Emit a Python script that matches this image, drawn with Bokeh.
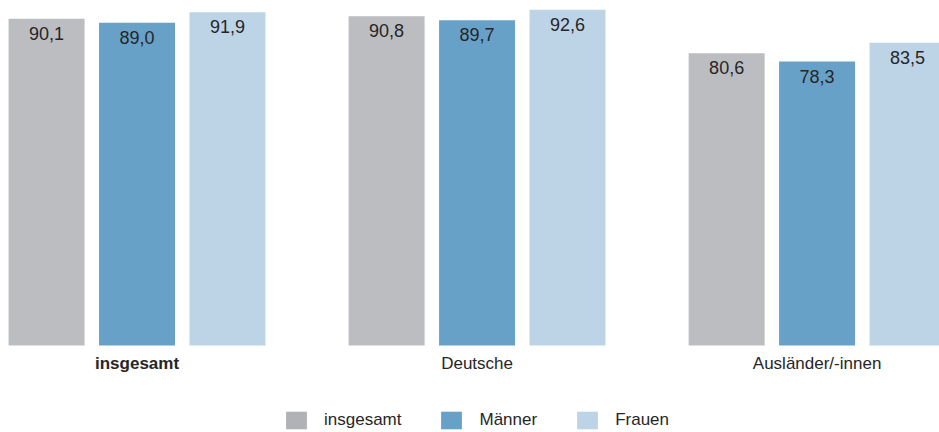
from bokeh.plotting import figure
from bokeh.models import ColumnDataSource, Range1d, Legend, LegendItem
from bokeh.transform import dodge
from bokeh.core.properties import value
from bokeh.embed import file_html
from bokeh.resources import INLINE

# ---- data ----
groups = ["insgesamt", "Deutsche", "Ausländer/-innen"]
series = ["insgesamt", "Männer", "Frauen"]
insgesamt = [90.1, 90.8, 80.6]
maenner = [89.0, 89.7, 78.3]
frauen = [91.9, 92.6, 83.5]

bar_colors = ["#bcbdc1", "#68a1c8", "#bdd4e7"]
legend_colors = ["#b1b2b6", "#68a1c8", "#bdd4e7"]
FONT_NAME = "Liberation Sans"
FONT = value(FONT_NAME)
TXT = "#262626"


def fmt(v):
    return f"{v:.1f}".replace(".", ",")


gx = list(range(len(groups)))
src = ColumnDataSource(dict(
    x=gx,
    zero=[0] * len(groups),
    s0=insgesamt, s1=maenner, s2=frauen,
    l0=[fmt(v) for v in insgesamt],
    l1=[fmt(v) for v in maenner],
    l2=[fmt(v) for v in frauen],
))

p = figure(width=939, height=432, output_backend="svg", toolbar_location=None,
           x_range=Range1d(-0.4015, 2.360), y_range=Range1d(-23.99, 95.12),
           x_axis_location=None, y_axis_location=None, min_border=0)
p.outline_line_color = None
p.xgrid.visible = False
p.ygrid.visible = False
p.background_fill_color = "white"

offsets = [-0.266, 0.0, 0.266]
bw = 0.2235
for i in range(3):
    p.vbar(x=dodge("x", offsets[i]), top=f"s{i}", bottom=0, width=bw,
           source=src, fill_color=bar_colors[i], line_color=None)
    p.text(x=dodge("x", offsets[i]), y=f"s{i}", text=f"l{i}", source=src,
           text_align="center", text_baseline="top", y_offset=8,
           text_font=FONT, text_font_size="18px", text_color=TXT)

# category labels
cat_src = ColumnDataSource(dict(x=gx, y=[0] * len(groups), t=groups,
                                st=["bold"] + ["normal"] * (len(groups) - 1)))
p.text(x="x", y="y", text="t", source=cat_src, text_align="center",
       text_baseline="top", y_offset=9, text_font=FONT,
       text_font_size="17px", text_font_style="st", text_color=TXT)

# legend (zero-height proxy bars carry the legend colours)
items = []
for i, s in enumerate(series):
    r = p.vbar(x=dodge("x", offsets[i]), top="zero", bottom="zero", width=bw,
               source=src, fill_color=legend_colors[i], line_color=None)
    items.append(LegendItem(label=s, renderers=[r]))
legend = Legend(items=items, orientation="horizontal", location=(283, 1),
                glyph_width=26, glyph_height=22, label_height=22,
                label_standoff=15, spacing=37,
                padding=0, margin=0, border_line_color=None,
                background_fill_alpha=0, label_text_font=FONT_NAME,
                label_text_font_size="17px", label_text_color=TXT)
p.add_layout(legend)

open("out.html", "w").write(file_html(p, INLINE))
